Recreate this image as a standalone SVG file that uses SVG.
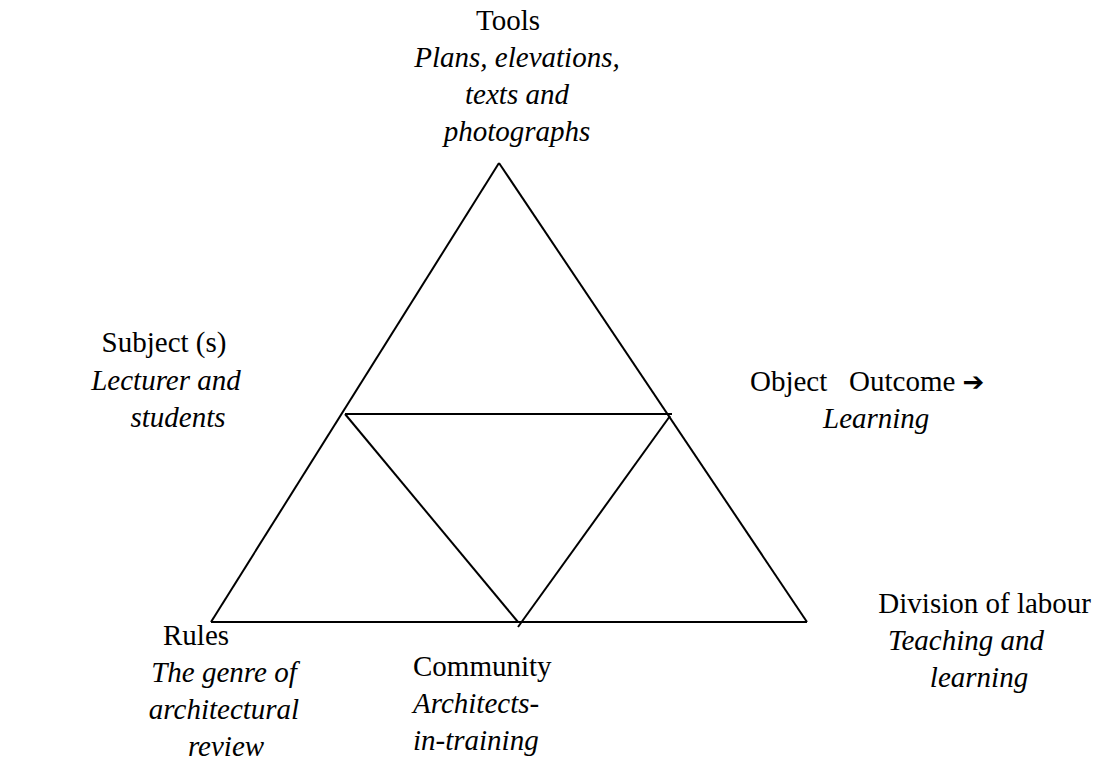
<svg xmlns="http://www.w3.org/2000/svg" width="1094" height="762" viewBox="0 0 1094 762">
  <style>
    text { font-family: 'Liberation Serif', 'Times New Roman', Times, serif; font-size: 29px; fill: #000; }
    .it { font-style: italic; }
    .edge { stroke: #000; stroke-width: 2; fill: none; stroke-linecap: butt; }
    .sym { font-family: 'DejaVu Sans', sans-serif; font-size: 26px; font-weight: bold; }
  </style>
  <rect width="1094" height="762" fill="#fff"/>

  <!-- triangle edges: outer triangle split into four by the mid-points -->
  <g id="connectors">
    <line class="edge" x1="211" y1="622" x2="499" y2="163"/>
    <line class="edge" x1="499" y1="163" x2="807" y2="622"/>
    <line class="edge" x1="211" y1="622" x2="807" y2="622"/>
    <line class="edge" x1="345" y1="414" x2="672" y2="414"/>
    <line class="edge" x1="345" y1="414" x2="518" y2="622"/>
    <line class="edge" x1="670" y1="416" x2="518" y2="627"/>
  </g>

  <g id="tools" text-anchor="middle">
    <text x="508" y="30">Tools</text>
    <text class="it" x="517" y="67">Plans, elevations,</text>
    <text class="it" x="517" y="104">texts and</text>
    <text class="it" x="517" y="141">photographs</text>
  </g>

  <g id="subject" text-anchor="middle">
    <text x="164" y="352">Subject (s)</text>
    <text class="it" x="166" y="390">Lecturer and</text>
    <text class="it" x="178" y="427">students</text>
  </g>

  <g id="object">
    <text x="750" y="391" xml:space="preserve">Object   Outcome <tspan class="sym">➔</tspan></text>
    <text class="it" x="823" y="428">Learning</text>
  </g>

  <g id="rules">
    <text x="163" y="645">Rules</text>
    <text class="it" x="224" y="682" text-anchor="middle">The genre of</text>
    <text class="it" x="224" y="719" text-anchor="middle">architectural</text>
    <text class="it" x="226" y="756" text-anchor="middle">review</text>
  </g>

  <g id="community">
    <text x="413" y="676">Community</text>
    <text class="it" x="413" y="713">Architects-</text>
    <text class="it" x="413" y="750">in-training</text>
  </g>

  <g id="division">
    <text x="1091" y="613" text-anchor="end">Division of labour</text>
    <text class="it" x="966" y="650" text-anchor="middle">Teaching and</text>
    <text class="it" x="979" y="687" text-anchor="middle">learning</text>
  </g>
</svg>
